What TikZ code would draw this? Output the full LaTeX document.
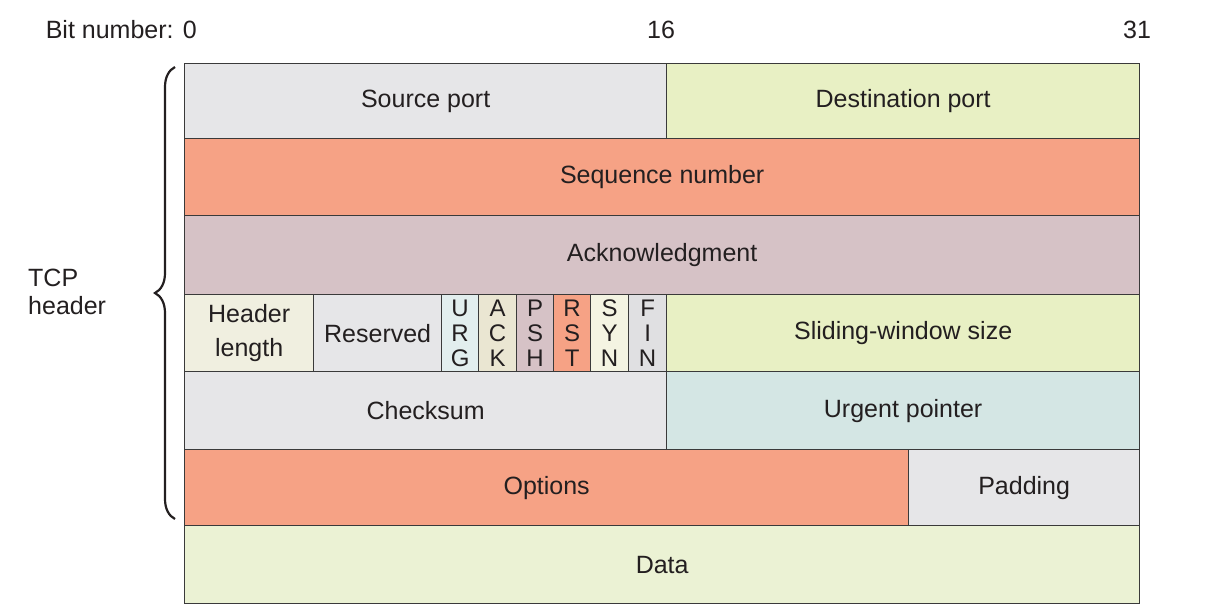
\documentclass[tikz,border=0pt]{standalone}
\usepackage{fontspec}
\setmainfont{Liberation Sans}
\usetikzlibrary{decorations.pathreplacing}
\definecolor{ink}{HTML}{231F20}
\definecolor{rule}{HTML}{3A3A3A}
\definecolor{cgray}{HTML}{E6E6E8}
\definecolor{cgreen}{HTML}{E8F0C4}
\definecolor{csalmon}{HTML}{F6A285}
\definecolor{cmauve}{HTML}{D6C2C6}
\definecolor{cbeige}{HTML}{F0EFE0}
\definecolor{ccyan}{HTML}{E2EEEE}
\definecolor{ctan}{HTML}{EAE6D2}
\definecolor{civory}{HTML}{F4F4E2}
\definecolor{cfin}{HTML}{E0E0E2}
\definecolor{cteal}{HTML}{D4E6E4}
\definecolor{cdata}{HTML}{EBF2D4}
\begin{document}
\begin{tikzpicture}[x=1pt,y=-1pt,
  field/.style={draw=rule, line width=1.3pt, inner sep=0pt, anchor=north west,
    text=ink, align=center, font=\fontsize{25}{34}\selectfont},
  flag/.style={field, font=\fontsize{24}{25}\selectfont},
  lbl/.style={text=ink, inner sep=0pt, font=\fontsize{25}{28}\selectfont}]
\useasboundingbox (0,0) rectangle (1210,614);

% bit numbers
\node[lbl, anchor=base east] (b0) at (197,38) {Bit number: 0};
\node[lbl, anchor=base] (b16) at (661,38) {16};
\node[lbl, anchor=base] (b31) at (1137,38) {31};

% row 1
\node[field, fill=cgray, minimum width=482pt, minimum height=75pt] (src) at (184,63) {Source port};
\node[field, fill=cgreen, minimum width=473pt, minimum height=75pt] (dst) at (666,63) {Destination port};
% row 2
\node[field, fill=csalmon, minimum width=955pt, minimum height=77pt] (seq) at (184,138) {Sequence number};
% row 3
\node[field, fill=cmauve, minimum width=955pt, minimum height=79pt] (ack) at (184,215) {Acknowledgment};
% row 4
\node[field, fill=cbeige, minimum width=129pt, minimum height=77pt] (hlen) at (184,294) {Header\\length};
\node[field, fill=cgray, minimum width=128pt, minimum height=77pt] (res) at (313,294) {Reserved};
\node[flag, fill=ccyan, minimum width=37pt, minimum height=77pt] (urg) at (441,294) {U\\R\\G};
\node[flag, fill=ctan, minimum width=38pt, minimum height=77pt] (fack) at (478,294) {A\\C\\K};
\node[flag, fill=cmauve, minimum width=37pt, minimum height=77pt] (psh) at (516,294) {P\\S\\H};
\node[flag, fill=csalmon, minimum width=37pt, minimum height=77pt] (rst) at (553,294) {R\\S\\T};
\node[flag, fill=civory, minimum width=38pt, minimum height=77pt] (syn) at (590,294) {S\\Y\\N};
\node[flag, fill=cfin, minimum width=38pt, minimum height=77pt] (fin) at (628,294) {F\\I\\N};
\node[field, fill=cgreen, minimum width=473pt, minimum height=77pt] (win) at (666,294) {Sliding-window size};
% row 5
\node[field, fill=cgray, minimum width=482pt, minimum height=78pt] (chk) at (184,371) {Checksum};
\node[field, fill=cteal, minimum width=473pt, minimum height=78pt] (urgp) at (666,371) {Urgent pointer};
% row 6
\node[field, fill=csalmon, minimum width=724pt, minimum height=76pt] (opt) at (184,449) {Options};
\node[field, fill=cgray, minimum width=231pt, minimum height=76pt] (pad) at (908,449) {Padding};
% row 7
\node[field, fill=cdata, minimum width=955pt, minimum height=78pt] (data) at (184,525) {Data};

% header brace and label
\coordinate (braceb) at (175,519);
\coordinate (bracet) at (175,67);
\draw[ink, line width=2.2pt, decorate, decoration={brace, amplitude=20pt}] (braceb) -- (bracet);
\node[lbl, anchor=west, align=left] (tcp) at (28,292) {TCP\\header};
\end{tikzpicture}
\end{document}
